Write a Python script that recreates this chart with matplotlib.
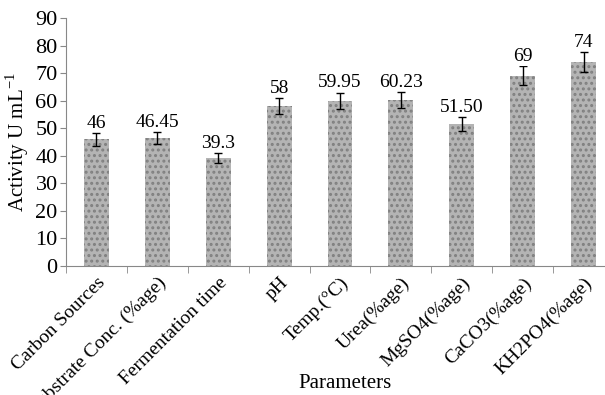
import numpy as np
import matplotlib
matplotlib.use("Agg")
import matplotlib.pyplot as plt

categories = ["Carbon Sources", "Substrate Conc. (%age)", "Fermentation time", "pH",
              "Temp.(\u00b0C)", "Urea(%age)", "MgSO4(%age)", "CaCO3(%age)", "KH2PO4(%age)"]
values = [46, 46.45, 39.3, 58, 59.95, 60.23, 51.50, 69, 74]
value_labels = ["46", "46.45", "39.3", "58", "59.95", "60.23", "51.50", "69", "74"]
errors = [2.4, 2.3, 1.8, 2.9, 3.0, 3.0, 2.6, 3.4, 3.6]

plt.rcParams['font.family'] = ['Liberation Serif', 'DejaVu Serif']
plt.rcParams['hatch.linewidth'] = 1.4
plt.rcParams['hatch.color'] = '#808080'

fig = plt.figure(figsize=(6.05, 3.95), dpi=100)
ax = fig.add_axes([66 / 605, 1 - 266 / 395, 548 / 605, 248 / 395])

x = np.arange(len(categories))
ax.bar(x, values, width=0.41, color='#b4b4b4', hatch='...', linewidth=0, zorder=2)
ax.errorbar(x, values, yerr=errors, fmt='none', ecolor='black', elinewidth=1,
            capsize=3, capthick=1, zorder=3)

for xi, v, e, lab in zip(x, values, errors, value_labels):
    ax.text(xi, v + e + 0.4, lab, ha='center', va='bottom', fontsize=14,
            bbox=dict(facecolor='white', edgecolor='none', pad=0.3), zorder=4)

ax.set_xlim(-0.5, len(categories) - 0.5)
ax.set_ylim(0, 90)
ax.set_yticks(np.arange(0, 91, 10))
ax.tick_params(axis='y', labelsize=16, length=4, color='#888888', pad=2)
ax.set_xticks(x)
ax.set_xticklabels(categories, rotation=45, ha='right', rotation_mode='anchor',
                   fontsize=14)
ax.tick_params(axis='x', length=0, pad=6)
ax.set_xticks(np.arange(0, len(categories) + 1) - 0.5, minor=True)
ax.tick_params(axis='x', which='minor', length=5, color='#888888')

for s in ['top', 'right']:
    ax.spines[s].set_visible(False)
ax.spines['left'].set_color('#888888')
ax.spines['bottom'].set_color('#888888')

ax.set_ylabel("Activity U mL$^{\\mathregular{-1}}$", fontsize=15, labelpad=3)
fig.text(345 / 605, 1 - 383 / 395, "Parameters", ha='center', va='center', fontsize=15)

fig.savefig("out.png", dpi=100)
